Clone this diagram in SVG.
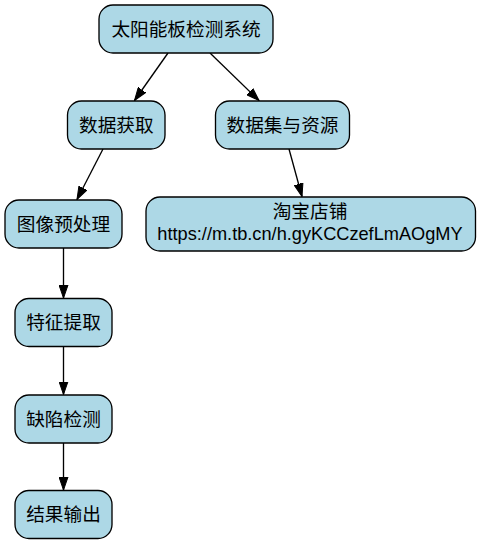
<svg xmlns="http://www.w3.org/2000/svg" width="480" height="544" viewBox="0 0 480 544">
  <style>
    .node rect { fill: #add8e6; stroke: #000000; stroke-width: 1.33; }
    .node text { font-family: "Liberation Sans", "Noto Sans CJK SC", sans-serif; font-size: 18.67px; fill: #000000; text-anchor: middle; }
    .edge { stroke: #000000; stroke-width: 1.33; fill: none; marker-end: url(#arrow); }
  </style>
  <defs>
    <marker id="arrow" markerUnits="userSpaceOnUse" markerWidth="14" markerHeight="10" refX="13" refY="5" orient="auto" viewBox="0 0 14 10">
      <path d="M0,0.5 L13,5 L0,9.5 z" fill="#000000" stroke="#000000" stroke-width="1"/>
    </marker>
  </defs>
  <rect width="480" height="544" fill="#ffffff"/>
  <g id="connectors">
    <line class="edge" x1="168" y1="53" x2="134.5" y2="100.5"/>
    <line class="edge" x1="210" y1="53" x2="259" y2="100.5"/>
    <line class="edge" x1="103" y1="149" x2="77" y2="199.5"/>
    <line class="edge" x1="289" y1="149" x2="302" y2="196.5"/>
    <line class="edge" x1="63.5" y1="248" x2="63.5" y2="298"/>
    <line class="edge" x1="63.5" y1="346.5" x2="63.5" y2="394.5"/>
    <line class="edge" x1="63.5" y1="443" x2="63.5" y2="490"/>
  </g>
  <g id="root" class="node">
    <rect x="99" y="5" width="174" height="48" rx="14" ry="14"/>
    <text x="186" y="35.5">太阳能板检测系统</text>
  </g>
  <g id="data_acquisition" class="node">
    <rect x="67.5" y="101" width="97.5" height="48" rx="14" ry="14"/>
    <text x="116.3" y="131.5">数据获取</text>
  </g>
  <g id="dataset_resources" class="node">
    <rect x="215.5" y="101" width="134" height="48" rx="14" ry="14"/>
    <text x="282.5" y="131.5">数据集与资源</text>
  </g>
  <g id="preprocess" class="node">
    <rect x="5" y="200" width="117" height="48" rx="14" ry="14"/>
    <text x="63.5" y="230.5">图像预处理</text>
  </g>
  <g id="taobao" class="node">
    <rect x="146" y="197" width="329.5" height="54" rx="14" ry="14"/>
    <text x="310" y="218">淘宝店铺</text>
    <text x="310" y="240" style="font-size:18.2px">https://m.tb.cn/h.gyKCCzefLmAOgMY</text>
  </g>
  <g id="feature" class="node">
    <rect x="15" y="298.5" width="97" height="48" rx="14" ry="14"/>
    <text x="63.5" y="329">特征提取</text>
  </g>
  <g id="defect" class="node">
    <rect x="15" y="395" width="97" height="48" rx="14" ry="14"/>
    <text x="63.5" y="425.5">缺陷检测</text>
  </g>
  <g id="output" class="node">
    <rect x="15" y="490.5" width="97" height="48" rx="14" ry="14"/>
    <text x="63.5" y="521">结果输出</text>
  </g>
</svg>
